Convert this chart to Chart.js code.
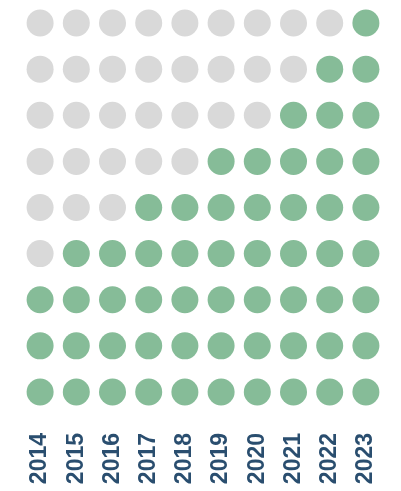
<!DOCTYPE html>
<html>
<head>
<meta charset="utf-8">
<script src="https://cdn.jsdelivr.net/npm/chart.js@4"></script>
<style>
  body { margin: 0; background: #fff; }
  #dots { display: block; }
</style>
</head>
<body>
<canvas id="dots" width="401" height="491"></canvas>
<script>
// years on the x axis, and how many of the 9 dots are filled for each
const years = ['2014', '2015', '2016', '2017', '2018', '2019', '2020', '2021', '2022', '2023'];
const filled = [3, 4, 4, 5, 5, 6, 6, 7, 8, 9];
const rows = 9;

const green = '#86bc98';
const grey = '#d9d9d9';

const points = [];
const colors = [];
years.forEach(function(y, i) {
  for (let r = 1; r <= rows; r++) {
    points.push({ x: y, y: r });
    colors.push(r <= filled[i] ? green : grey);
  }
});

const ctx = document.getElementById('dots');

new Chart(ctx, {
  type: 'scatter',
  data: {
    labels: years,
    datasets: [{
      data: points,
      backgroundColor: colors,
      borderWidth: 0,
      pointRadius: 13.5,
      pointHoverRadius: 13.5,
      pointBorderWidth: 0
    }]
  },
  options: {
    responsive: false,
    animation: false,
    layout: {
      autoPadding: false,
      padding: { left: 22, right: 17, top: 0, bottom: 0 }
    },
    plugins: {
      legend: { display: false },
      tooltip: { enabled: false }
    },
    scales: {
      x: {
        type: 'category',
        labels: years,
        offset: true,
        border: { display: false },
        grid: { display: false, drawTicks: false },
        ticks: {
          autoSkip: false,
          minRotation: 90,
          maxRotation: 90,
          padding: 18,
          color: '#2a4e6f',
          font: { family: '"Liberation Sans", Arial, sans-serif', size: 23, weight: 'bold' }
        },
        afterFit: function(scale) {
          scale.height = 76;
          scale.paddingLeft = 0;
          scale.paddingRight = 0;
        }
      },
      y: {
        type: 'linear',
        display: false,
        min: 0.5,
        max: 9.5
      }
    }
  }
});
</script>
</body>
</html>
